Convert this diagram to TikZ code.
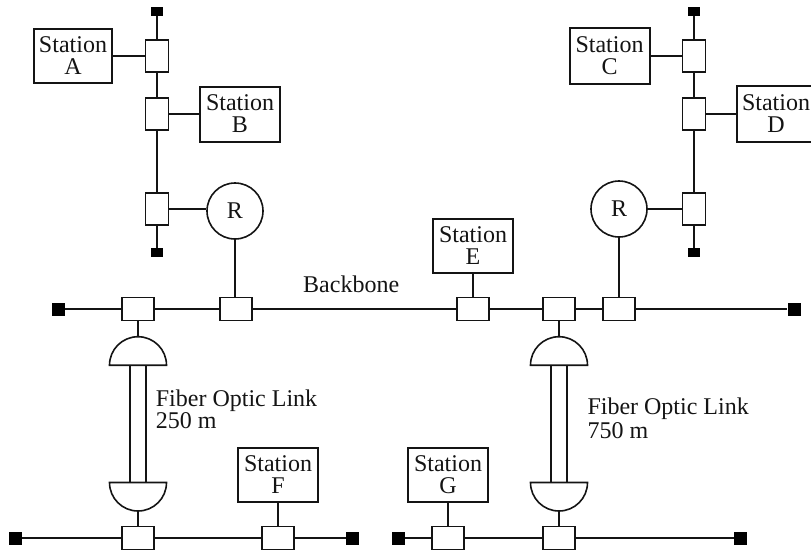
\documentclass[tikz,border=0pt]{standalone}
\usepackage{fontspec}
\setmainfont{Liberation Serif}
\usetikzlibrary{shapes.geometric}
\definecolor{LanInk}{RGB}{20,20,20}

\begin{document}
\begin{tikzpicture}[
          x=1pt, y=-1pt,
          every node/.style={text=LanInk, font=\fontsize{24}{22}\selectfont},
          wire/.style={draw=LanInk, line width=1.8pt},
          stub/.style={draw=LanInk, line width=1.5pt},
          stn/.style={rectangle, draw=LanInk, line width=2pt, align=center,
                      minimum width=80pt, minimum height=55pt, inner sep=0pt},
          vtap/.style={rectangle, draw=LanInk, line width=1.4pt, fill=white,
                       minimum width=23pt, minimum height=32pt, inner sep=0pt},
          htap/.style={rectangle, draw=LanInk, line width=1.4pt, fill=white,
                       minimum width=32pt, minimum height=23pt, inner sep=0pt},
          vend/.style={rectangle, fill=black, minimum width=12pt,
                       minimum height=9pt, inner sep=0pt},
          hend/.style={rectangle, fill=black, minimum width=13pt,
                       minimum height=13pt, inner sep=0pt},
          rep/.style={circle, draw=LanInk, line width=1.6pt,
                      minimum size=56pt, inner sep=0pt},
          dome/.style={semicircle, draw=LanInk, line width=1.6pt, inner sep=0pt,
                       minimum width=57pt, minimum height=28.5pt},
          lbl/.style={align=left, inner sep=0pt, anchor=base west}
        ]
        \useasboundingbox (0,0) rectangle (811,552);

        % Upper segments
        \foreach \s/\x in {l/157, r/694} {
          \node[vend] (\s top) at (\x, 11.5) {};
          \node[vtap] (\s t1) at (\x, 56) {};
          \node[vtap] (\s t2) at (\x, 114) {};
          \node[vtap] (\s t3) at (\x, 209) {};
          \node[vend] (\s bot) at (\x, 252.5) {};
          \draw[wire] (\s top) -- (\s t1) -- (\s t2) -- (\s t3) -- (\s bot);
        }
        \node[stn, minimum width=78pt, minimum height=54pt] (stnA) at (73, 56) {Station\\A};
        \node[stn] (stnB) at (240, 114) {Station\\B};
        \node[stn, minimum height=56pt] (stnC) at (609.5, 56) {Station\\C};
        \node[stn, minimum width=78pt, minimum height=56pt] (stnD) at (776, 114) {Station\\D};
        \node[rep] (repL) at (235, 211) {R};
        \node[rep] (repR) at (619, 209) {R};
        \draw[stub] (stnA) -- (lt1);
        \draw[stub] (lt2) -- (stnB);
        \draw[stub] (lt3.east) -- (lt3.east -| repL.west);
        \draw[stub] (stnC) -- (rt1);
        \draw[stub] (rt2) -- (stnD);
        \draw[stub] (repR.east) -- (rt3.west);

        % Backbone
        \node[hend] (bbL) at (58, 309) {};
        \node[htap] (bb1) at (138, 309) {};
        \node[htap] (bb2) at (236, 309) {};
        \node[htap] (bb3) at (473, 309) {};
        \node[htap] (bb4) at (559, 309) {};
        \node[htap] (bb5) at (619, 309) {};
        \node[hend] (bbR) at (794, 309) {};
        \draw[wire] (bbL) -- (bb1) -- (bb2) -- (bb3) -- (bb4) -- (bb5) -- (bbR);
        \node[lbl] (bbName) at (303, 292) {Backbone};
        \node[stn, minimum height=54pt] (stnE) at (473, 246) {Station\\E};
        \draw[stub] (repL.south) -- (repL.south |- bb2.north);
        \draw[stub] (repR) -- (bb5);
        \draw[stub] (stnE) -- (bb3);

        % Lower segments
        \node[hend] (loA) at (15, 538) {};
        \node[htap] (loA1) at (138, 538) {};
        \node[htap] (loA2) at (278, 538) {};
        \node[hend] (loA3) at (352.5, 538) {};
        \draw[wire] (loA) -- (loA1) -- (loA2) -- (loA3);
        \node[hend] (loB) at (398, 538) {};
        \node[htap] (loB1) at (448, 538) {};
        \node[htap] (loB2) at (559, 538) {};
        \node[hend] (loB3) at (740.5, 538) {};
        \draw[wire] (loB) -- (loB1) -- (loB2) -- (loB3);
        \node[stn, minimum height=54pt] (stnF) at (278, 475) {Station\\F};
        \node[stn, minimum height=54pt] (stnG) at (448, 475) {Station\\G};
        \draw[stub] (stnF) -- (loA2);
        \draw[stub] (stnG) -- (loB1);

        % Fiber links
        \foreach \f/\x/\up/\lo in {a/138/bb1/loA1, b/559/bb4/loB2} {
          \node[dome, anchor=chord center] (\f hi) at (\x, 366) {};
          \node[dome, anchor=chord center, shape border rotate=180] (\f lo) at (\x, 481.7) {};
          \draw[stub] (\up) -- (\f hi.apex);
          \draw[stub] (\f lo.apex) -- (\lo);
          \draw[stub] ([xshift=-8pt]\f hi.chord center) -- ([xshift=-8pt]\f lo.chord center);
          \draw[stub] ([xshift=8pt]\f hi.chord center) -- ([xshift=8pt]\f lo.chord center);
        }
        \node[lbl] (linkA) at (155.7, 428) {Fiber Optic Link\\250 m};
        \node[lbl] (linkB) at (587.3, 438) {Fiber Optic Link\\[2pt]750 m};
      \end{tikzpicture}
\end{document}
